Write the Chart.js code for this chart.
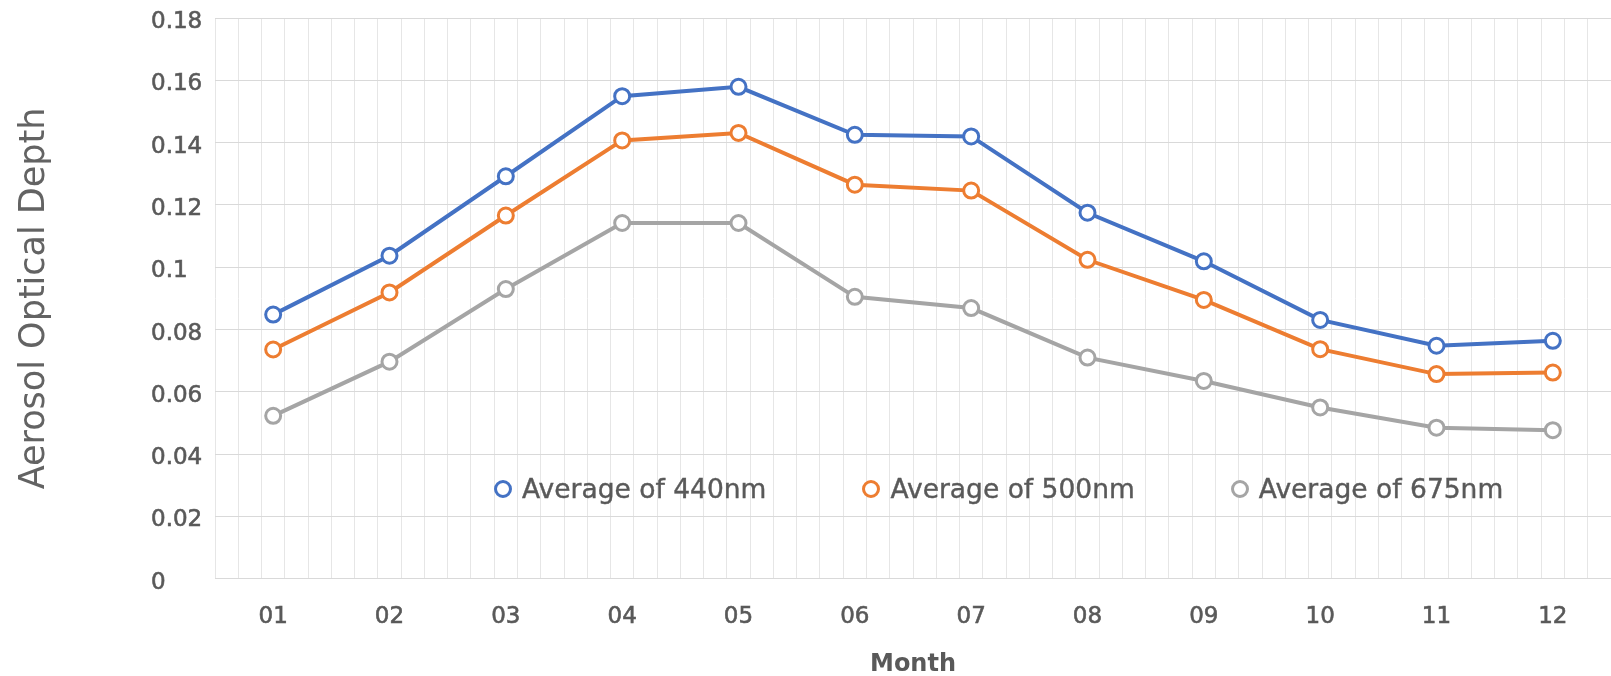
<!DOCTYPE html>
<html>
<head>
<meta charset="utf-8">
<script src="https://cdn.jsdelivr.net/npm/chart.js@4"></script>
<style>
    html, body { margin: 0; padding: 0; background: #fff; }
    #wrap { position: relative; width: 1611px; height: 676px; }
    #legend {
        position: absolute; left: 494px; top: 473px;
        display: flex; gap: 96px;
        font-family: "DejaVu Sans"; font-size: 26.5px; color: #595959;
        -webkit-text-stroke: 0.4px #595959;
    }
    .item { display: flex; align-items: center; gap: 10px; line-height: 32px; }
    .dot { width: 12px; height: 12px; border-radius: 50%; border: 3px solid; background: #fff; }
</style>
</head>
<body>
<div id="wrap">
    <canvas id="chart"></canvas>
    <div id="legend"></div>
</div>
<script>
const months = ["01", "02", "03", "04", "05", "06", "07", "08", "09", "10", "11", "12"];
const avg440 = [0.0848, 0.1037, 0.1292, 0.1549, 0.1579, 0.1425, 0.1420, 0.1175, 0.1019, 0.0831, 0.0748, 0.0764];
const avg500 = [0.0736, 0.0919, 0.1166, 0.1407, 0.1431, 0.1265, 0.1246, 0.1024, 0.0895, 0.0737, 0.0657, 0.0662];
const avg675 = [0.0523, 0.0697, 0.0930, 0.1142, 0.1142, 0.0905, 0.0869, 0.0710, 0.0635, 0.0550, 0.0485, 0.0477];
const yTickLabels = ["0", "0.02", "0.04", "0.06", "0.08", "0.1", "0.12", "0.14", "0.16", "0.18"];

const seriesNames = ["Average of 440nm", "Average of 500nm", "Average of 675nm"];
const seriesColors = ["#4472C4", "#ED7D31", "#A5A5A5"];

Chart.defaults.font.family = "DejaVu Sans";
Chart.defaults.color = "#595959";

function makeSet(i, values) {
    return {
        label: seriesNames[i],
        data: values,
        xAxisID: 'x',
        yAxisID: 'y',
        borderColor: seriesColors[i],
        borderWidth: 4,
        pointRadius: 7.5,
        pointBorderWidth: 3,
        pointBackgroundColor: '#fff',
        pointBorderColor: seriesColors[i],
        tension: 0
    };
}

const chart = new Chart(document.getElementById('chart'), {
    type: 'line',
    data: {
        labels: months,
        datasets: [makeSet(0, avg440), makeSet(1, avg500), makeSet(2, avg675)]
    },
    options: {
        responsive: true,
        maintainAspectRatio: false,
        animation: false,
        layout: { autoPadding: false, padding: { top: 18, right: 0, bottom: 0, left: 0 } },
        plugins: {
            legend: { display: false },
            tooltip: { enabled: false },
            title: {
                display: true,
                position: 'left',
                fullSize: false,
                text: 'Aerosol Optical Depth',
                color: '#636363',
                font: { size: 35, weight: 'normal' },
                padding: { top: 14, bottom: 95 }
            }
        },
        scales: {
            x: {
                type: 'category',
                offset: true,
                grid: { display: false, drawTicks: false },
                border: { display: false },
                ticks: {
                    padding: 24, font: { size: 23 }, color: '#595959',
                    textStrokeColor: '#595959', textStrokeWidth: 0.6
                },
                title: {
                    display: true,
                    text: 'Month',
                    color: '#595959',
                    font: { size: 24, weight: 'bold', lineHeight: 0.9 },
                    padding: { top: 0, bottom: 0 }
                },
                afterFit: s => { s.paddingLeft = 0; s.paddingRight = 0; }
            },
            x2: {
                type: 'linear',
                position: 'bottom',
                min: 0,
                max: 60,
                ticks: { display: false, stepSize: 1 },
                grid: { color: '#e6e6e6', lineWidth: 1, drawTicks: false },
                border: { display: false },
                afterFit: s => { s.height = 0; s.paddingLeft = 0; s.paddingRight = 0; }
            },
            y: {
                min: 0,
                max: 0.18,
                ticks: {
                    stepSize: 0.02,
                    crossAlign: 'far',
                    labelOffset: 4,
                    font: { size: 23 },
                    color: '#595959',
                    textStrokeColor: '#595959',
                    textStrokeWidth: 0.6,
                    callback: (v, i) => yTickLabels[i]
                },
                grid: { color: '#d9d9d9', lineWidth: 1, drawTicks: false },
                border: { display: false },
                afterFit: s => { s.width = 64; }
            }
        }
    }
});

// legend sits inside the plot, like the original
const legendEl = document.getElementById('legend');
chart.data.datasets.forEach(ds => {
    const item = document.createElement('div');
    item.className = 'item';
    const dot = document.createElement('span');
    dot.className = 'dot';
    dot.style.borderColor = ds.borderColor;
    const txt = document.createElement('span');
    txt.textContent = ds.label;
    item.appendChild(dot);
    item.appendChild(txt);
    legendEl.appendChild(item);
});
</script>
</body>
</html>
